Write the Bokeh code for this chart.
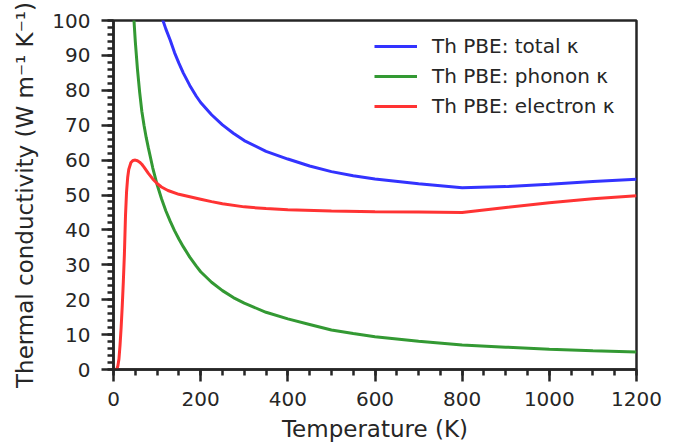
from bokeh.plotting import figure
from bokeh.models import Range1d, Legend, LegendItem, FixedTicker
from bokeh.embed import file_html
from bokeh.resources import INLINE

# ---- data ----
T_total = [100, 110, 120, 130, 140, 150, 160, 175, 190, 200, 225, 250, 275, 300, 350, 400, 450, 500, 550, 600, 700, 800, 900, 1000, 1100, 1200]
k_total = [106.3, 101.3, 97.6, 94.4, 90.8, 87.8, 85.0, 81.4, 78.3, 76.5, 73.0, 70.1, 67.7, 65.6, 62.5, 60.3, 58.3, 56.7, 55.5, 54.6, 53.2, 52.1, 52.4, 53.1, 53.9, 54.5]

T_phonon = [35, 40, 45, 50, 55, 60, 65, 70, 75, 80, 90, 100, 110, 120, 130, 140, 150, 160, 175, 190, 200, 225, 250, 275, 300, 350, 400, 450, 500, 550, 600, 700, 800, 900, 1000, 1100, 1200]
k_phonon = [135.0, 117.0, 104.0, 94.0, 86.0, 79.5, 74.0, 70.0, 66.5, 63.5, 57.8, 53.0, 49.0, 45.5, 42.5, 39.8, 37.4, 35.2, 32.2, 29.6, 28.0, 25.0, 22.6, 20.6, 19.0, 16.4, 14.5, 12.9, 11.3, 10.3, 9.4, 8.1, 7.0, 6.4, 5.8, 5.35, 5.0]

T_electron = [0, 5, 8, 10, 12.5, 15, 17.5, 20, 22.5, 25, 27.5, 30, 32.5, 35, 40, 45, 50, 55, 60, 65, 70, 80, 90, 100, 110, 125, 150, 175, 200, 225, 250, 300, 350, 400, 500, 600, 700, 800, 900, 1000, 1100, 1200]
k_electron = [0.0, 0.0, 0.2, 1.0, 3.0, 7.0, 12.0, 18.0, 25.0, 33.0, 44.0, 51.0, 55.0, 57.3, 59.3, 59.9, 60.0, 59.8, 59.4, 58.8, 58.0, 56.2, 54.6, 53.3, 52.3, 51.3, 50.2, 49.5, 48.8, 48.1, 47.5, 46.6, 46.1, 45.8, 45.4, 45.2, 45.1, 45.0, 46.4, 47.8, 48.9, 49.8]

labels = ["Th PBE: total \u03ba", "Th PBE: phonon \u03ba", "Th PBE: electron \u03ba"]
colors = ["#3333ff", "#339933", "#ff3333"]

x_ticks = [0, 200, 400, 600, 800, 1000, 1200]
y_ticks = [0, 10, 20, 30, 40, 50, 60, 70, 80, 90, 100]

FONT = "DejaVu Sans"
INK = "#262626"

p = figure(width=688, height=447, output_backend="svg", toolbar_location=None,
           x_range=Range1d(0, 1200), y_range=Range1d(0, 100),
           min_border_left=113, min_border_right=52, min_border_top=20, min_border_bottom=78)
p.background_fill_color = "white"
p.border_fill_color = "white"
p.outline_line_color = INK
p.outline_line_width = 2.5
p.xgrid.visible = False
p.ygrid.visible = False

r1 = p.line(T_total, k_total, line_color=colors[0], line_width=3)
r2 = p.line(T_phonon, k_phonon, line_color=colors[1], line_width=3)
r3 = p.line(T_electron, k_electron, line_color=colors[2], line_width=3)

p.xaxis.ticker = FixedTicker(ticks=x_ticks, minor_ticks=list(range(0, 1201, 50)))
p.yaxis.ticker = FixedTicker(ticks=y_ticks, minor_ticks=list(range(0, 101, 2)))

for ax in (p.xaxis[0], p.yaxis[0]):
    ax.axis_line_color = INK
    ax.axis_line_width = 2.5
    ax.major_tick_line_color = INK
    ax.major_tick_line_width = 2.5
    ax.minor_tick_line_color = INK
    ax.minor_tick_line_width = 2.5
    ax.major_tick_out = 12
    ax.major_tick_in = 0
    ax.minor_tick_out = 6
    ax.minor_tick_in = 0
    ax.major_label_text_font = FONT
    ax.major_label_text_font_size = "20px"
    ax.major_label_text_color = INK
    ax.axis_label_text_font = FONT
    ax.axis_label_text_font_size = "23px"
    ax.axis_label_text_font_style = "normal"
    ax.axis_label_text_color = INK

p.xaxis.axis_label = "Temperature (K)"
p.yaxis.axis_label = "Thermal conductivity (W m\u207b\u00b9 K\u207b\u00b9)"
p.xaxis.major_label_standoff = 10
p.yaxis.major_label_standoff = 11
p.xaxis.axis_label_standoff = 7
p.yaxis.axis_label_standoff = 11

legend = Legend(items=[LegendItem(label=labels[0], renderers=[r1]),
                       LegendItem(label=labels[1], renderers=[r2]),
                       LegendItem(label=labels[2], renderers=[r3])],
                location=(261, 248))
legend.border_line_color = None
legend.background_fill_alpha = 0
legend.label_text_font = FONT
legend.label_text_font_size = "20px"
legend.label_text_color = INK
legend.glyph_width = 43
legend.glyph_height = 30
legend.label_height = 30
legend.label_standoff = 15
legend.spacing = 0
legend.margin = 0
legend.padding = 0
p.add_layout(legend)

open("out.html", "w").write(file_html(p, INLINE))
